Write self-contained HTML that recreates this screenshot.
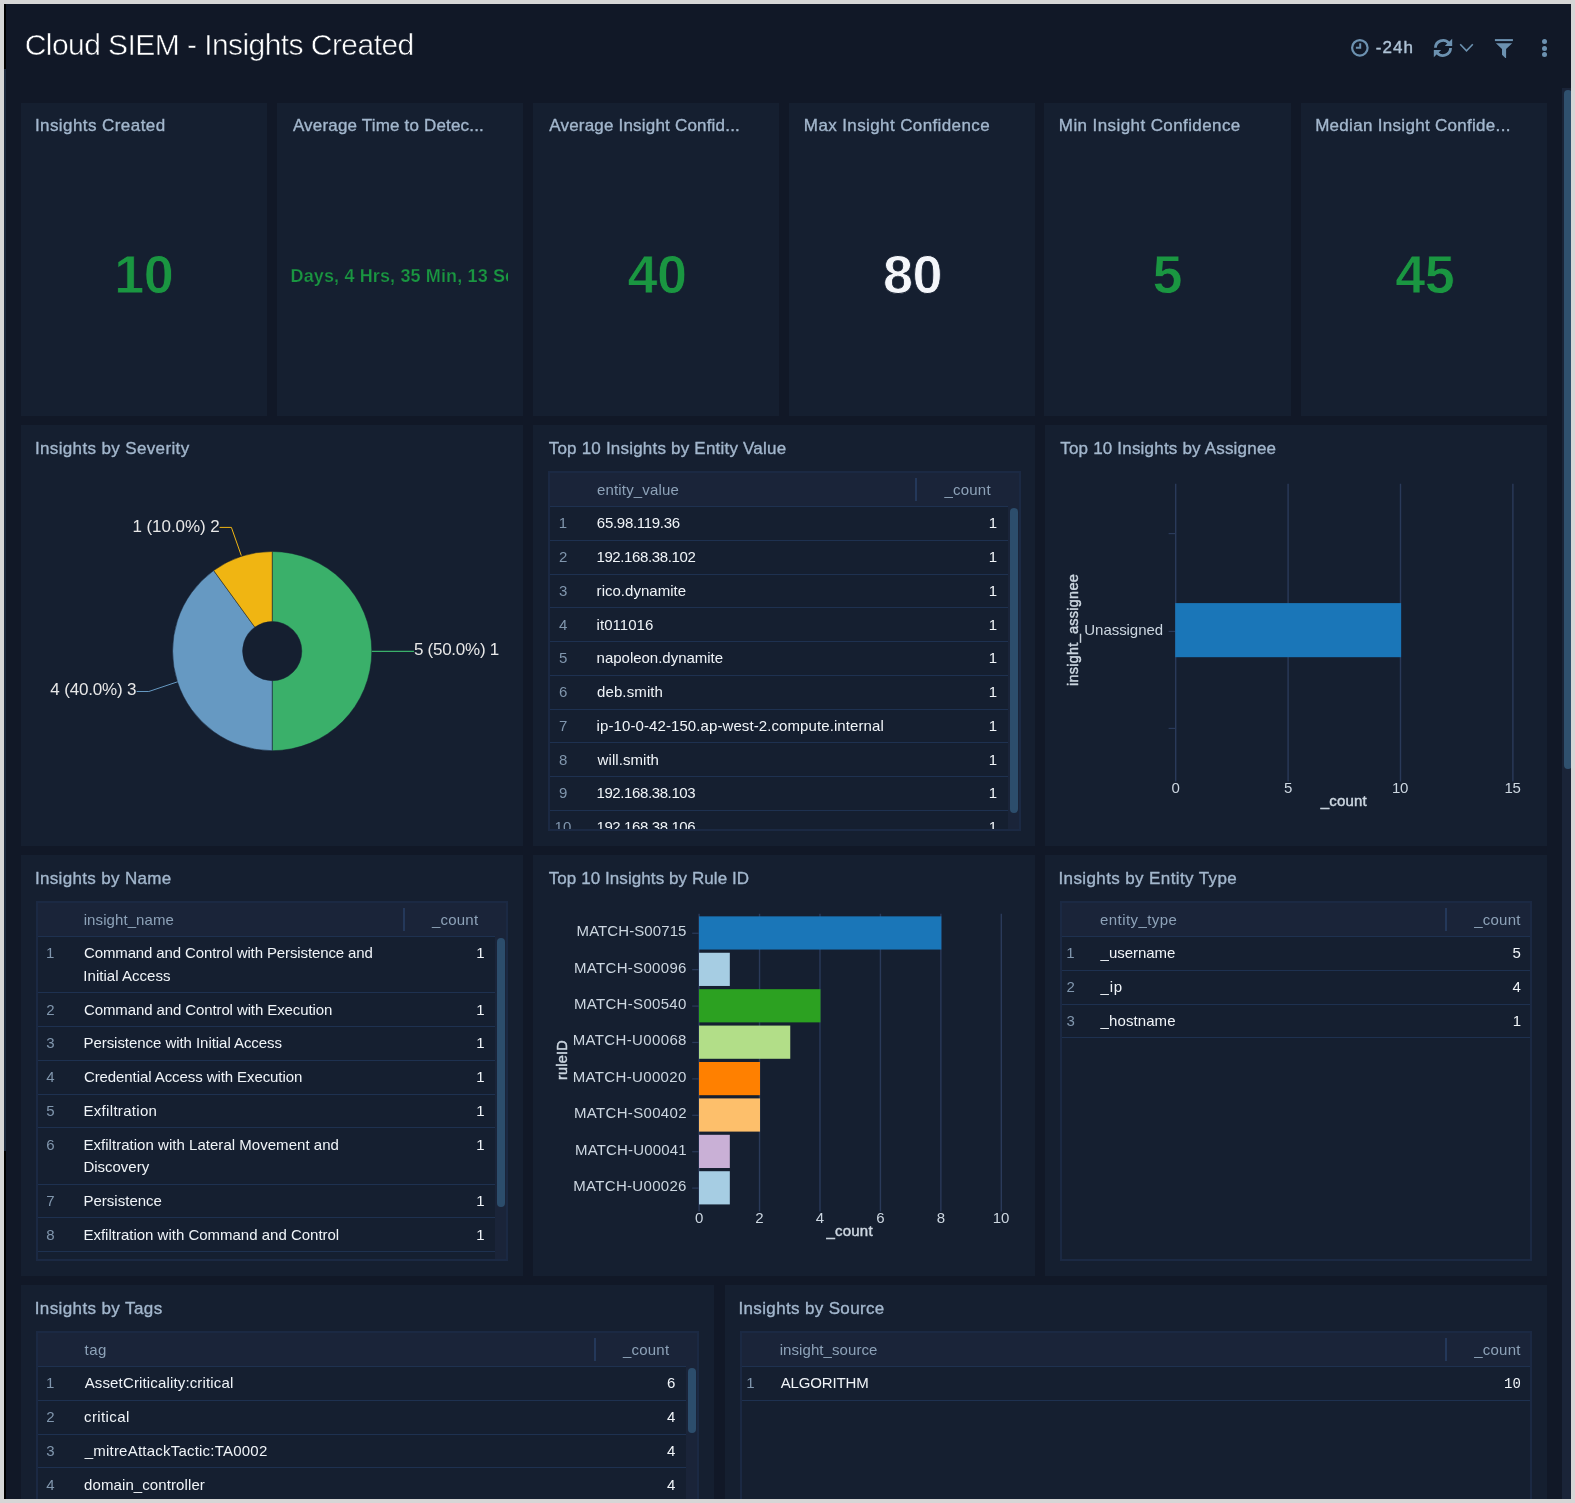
<!DOCTYPE html>
<html lang="en"><head><meta charset="utf-8"><title>Cloud SIEM - Insights Created</title>
<style>
html,body{margin:0;padding:0}
body{width:1575px;height:1503px;overflow:hidden;position:relative;background:#111827;font-family:"Liberation Sans",sans-serif}
.b{position:absolute}
.t{position:absolute;white-space:pre;line-height:1;font-family:"Liberation Sans",sans-serif}
.pt{-webkit-text-stroke:0.35px #a3b7cd}
.ax{-webkit-text-stroke:0.45px #ccd6e0}
svg{position:absolute;overflow:visible}
#root{position:absolute;left:0;top:0;width:1575px;height:1503px;overflow:hidden;will-change:transform}
</style></head><body><div id="root">

<div class="b" style="left:4px;top:4px;width:2px;height:65px;background:#000;"></div>
<div class="b" style="left:4px;top:69px;width:2px;height:1082px;background:#1c293c;"></div>
<div class="b" style="left:4px;top:1151px;width:2px;height:348px;background:#000;"></div>
<div class="t" style="left:24.70px;top:29.71px;font-size:30px;color:#ffffff;letter-spacing:-0.559px;-webkit-text-stroke:0.55px #111827;">Cloud SIEM - Insights Created</div>
<svg style="left:1350px;top:38px" width="20" height="20" viewBox="0 0 20 20"><circle cx="9.85" cy="9.85" r="7.75" fill="none" stroke="#6c91b0" stroke-width="2.2"/><path d="M10.2 5.2V9.7H5.9" fill="none" stroke="#6c91b0" stroke-width="2"/></svg>
<div class="t" style="left:1375.85px;top:38.61px;font-size:17px;color:#aec2d6;letter-spacing:1.004px;-webkit-text-stroke:0.4px #aec2d6;">-24h</div>
<svg style="left:1433px;top:38px" width="20" height="20" viewBox="0 0 20 20"><g fill="none" stroke="#6c91b0" stroke-width="2.8"><path d="M2.45 9.85A7.55 7.55 0 0 1 15.78 5.1"/><path d="M17.55 10.05A7.55 7.55 0 0 1 4.22 14.8"/></g><path d="M19.2 0.8V8.1H11.8Z" fill="#6c91b0"/><path d="M0.8 19.2V11.9H8.2Z" fill="#6c91b0"/></svg>
<svg style="left:1459px;top:43px" width="16" height="10" viewBox="0 0 16 10"><path d="M1.2 1.3L7.5 7.8L13.8 1.3" fill="none" stroke="#6c91b0" stroke-width="1.6"/></svg>
<svg style="left:1494px;top:38px" width="20" height="21" viewBox="0 0 20 21"><path d="M0.9 1.1h18v2H0.9z" fill="#6c91b0"/><path d="M1.9 5.2H18.2L12.1 10.9V20.1H11.3L8 16.8V10.9Z" fill="#6c91b0"/></svg>
<div class="b" style="left:1541.8px;top:39.0px;width:5px;height:5px;border-radius:50%;background:#6c91b0"></div>
<div class="b" style="left:1541.8px;top:45.5px;width:5px;height:5px;border-radius:50%;background:#6c91b0"></div>
<div class="b" style="left:1541.8px;top:52.1px;width:5px;height:5px;border-radius:50%;background:#6c91b0"></div>
<div class="b" style="left:1562px;top:88px;width:9px;height:1411px;background:#1a2438;"></div>
<div class="b" style="left:1564px;top:90px;width:8px;height:679px;background:#2f506e;border-radius:4px;"></div>
<div class="b" style="left:21px;top:103px;width:246px;height:313px;background:#151f30;"></div>
<div class="t pt" style="left:34.89px;top:116.51px;font-size:17px;color:#a3b7cd;letter-spacing:0.431px;">Insights Created</div>
<div class="t" style="left:114.23px;top:246.89px;font-size:54px;color:#1a9641;font-weight:700;letter-spacing:-0.500px;-webkit-text-stroke:0.8px #151f30;">10</div>
<div class="b" style="left:277px;top:103px;width:246px;height:313px;background:#151f30;"></div>
<div class="t pt" style="left:292.92px;top:116.51px;font-size:17px;color:#a3b7cd;letter-spacing:0.178px;">Average Time to Detec...</div>
<div class="b" style="left:533px;top:103px;width:246px;height:313px;background:#151f30;"></div>
<div class="t pt" style="left:549.22px;top:116.51px;font-size:17px;color:#a3b7cd;letter-spacing:0.197px;">Average Insight Confid...</div>
<div class="t" style="left:627.50px;top:246.89px;font-size:54px;color:#1a9641;font-weight:700;letter-spacing:-0.500px;-webkit-text-stroke:0.8px #151f30;">40</div>
<div class="b" style="left:789px;top:103px;width:246px;height:313px;background:#151f30;"></div>
<div class="t pt" style="left:803.86px;top:116.51px;font-size:17px;color:#a3b7cd;letter-spacing:0.385px;">Max Insight Confidence</div>
<div class="t" style="left:883.06px;top:246.89px;font-size:54px;color:#f4f6fa;font-weight:700;letter-spacing:-0.500px;-webkit-text-stroke:0.8px #151f30;">80</div>
<div class="b" style="left:1044px;top:103px;width:247px;height:313px;background:#151f30;"></div>
<div class="t pt" style="left:1058.86px;top:116.51px;font-size:17px;color:#a3b7cd;letter-spacing:0.405px;">Min Insight Confidence</div>
<div class="t" style="left:1152.51px;top:246.89px;font-size:54px;color:#1a9641;font-weight:700;letter-spacing:-0.500px;-webkit-text-stroke:0.8px #151f30;">5</div>
<div class="b" style="left:1301px;top:103px;width:246px;height:313px;background:#151f30;"></div>
<div class="t pt" style="left:1315.16px;top:116.51px;font-size:17px;color:#a3b7cd;letter-spacing:0.299px;">Median Insight Confide...</div>
<div class="t" style="left:1395.15px;top:246.89px;font-size:54px;color:#1a9641;font-weight:700;letter-spacing:-0.500px;-webkit-text-stroke:0.8px #151f30;">45</div>
<div class="b" style="left:291px;top:255px;width:216.5px;height:40px;overflow:hidden">
<div class="t" style="left:-0.49px;top:11.56px;font-size:18px;color:#1a9641;font-weight:700;letter-spacing:0.140px;-webkit-text-stroke:0.25px #151f30;">Days, 4 Hrs, 35 Min, 13 Sec</div>
</div>
<div class="b" style="left:21px;top:425px;width:502px;height:421px;background:#151f30;"></div>
<div class="t pt" style="left:34.89px;top:439.71px;font-size:17px;color:#a3b7cd;letter-spacing:0.363px;">Insights by Severity</div>
<div class="b" style="left:533px;top:425px;width:502px;height:421px;background:#151f30;"></div>
<div class="t pt" style="left:548.68px;top:439.71px;font-size:17px;color:#a3b7cd;letter-spacing:0.207px;">Top 10 Insights by Entity Value</div>
<div class="b" style="left:1045px;top:425px;width:502px;height:421px;background:#151f30;"></div>
<div class="t pt" style="left:1060.28px;top:439.71px;font-size:17px;color:#a3b7cd;letter-spacing:0.191px;">Top 10 Insights by Assignee</div>
<svg style="left:0;top:0" width="1575" height="1503" viewBox="0 0 1575 1503">
<path d="M272.20 551.50A99.6 99.6 0 0 1 272.20 750.70L272.20 680.70A29.6 29.6 0 0 0 272.20 621.50Z" fill="#3ab06a" stroke="#151f30" stroke-width="0.5"/>
<path d="M272.20 750.70A99.6 99.6 0 0 1 213.66 570.52L254.80 627.15A29.6 29.6 0 0 0 272.20 680.70Z" fill="#6699c2" stroke="#151f30" stroke-width="0.5"/>
<path d="M213.66 570.52A99.6 99.6 0 0 1 272.20 551.50L272.20 621.50A29.6 29.6 0 0 0 254.80 627.15Z" fill="#f0b512" stroke="#151f30" stroke-width="0.5"/>
<path d="M371.8 651.4H414" fill="none" stroke="#3ab06a" stroke-width="1.2"/>
<path d="M241.3 555.6L231.4 527.4H219.6" fill="none" stroke="#f0b512" stroke-width="1"/>
<path d="M177.6 681.8L148.8 691.5H136.6" fill="none" stroke="#6699c2" stroke-width="1"/>
</svg>
<div class="t" style="left:413.92px;top:641.41px;font-size:17px;color:#e8e8e8;letter-spacing:-0.258px;">5 (50.0%) 1</div>
<div class="t" style="left:132.51px;top:517.81px;font-size:17px;color:#e8e8e8;letter-spacing:-0.074px;">1 (10.0%) 2</div>
<div class="t" style="left:50.33px;top:681.41px;font-size:17px;color:#e8e8e8;letter-spacing:-0.177px;">4 (40.0%) 3</div>
<div class="b" style="left:548px;top:471px;width:469px;height:356px;border:2px solid #1b2943;overflow:hidden">
<div class="b" style="left:0;top:0;width:469px;height:33px;background:#1a2439"></div>
<div class="b" style="left:458px;top:33px;width:11px;height:360px;background:#1a2439"></div>
<div class="b" style="left:365px;top:5px;width:2px;height:23px;background:#24385a"></div>
</div>
<div class="t" style="left:596.97px;top:481.50px;font-size:15px;color:#8da2b8;letter-spacing:0.167px;">entity_value</div>
<div class="t" style="left:944.40px;top:481.50px;font-size:15px;color:#8da2b8;letter-spacing:0.233px;">_count</div>
<div class="b" style="left:550px;top:506px;width:458px;height:1px;background:#1e3150;"></div>
<div class="t" style="left:558.82px;top:515.00px;font-size:15px;color:#8096ad;">1</div>
<div class="t" style="left:596.85px;top:515.00px;font-size:15px;color:#f0f4f8;letter-spacing:-0.288px;">65.98.119.36</div>
<div class="t" style="left:988.68px;top:515.00px;font-size:15px;color:#f0f4f8;">1</div>
<div class="b" style="left:550px;top:540px;width:458px;height:1px;background:#1e3150;"></div>
<div class="t" style="left:559.03px;top:549.00px;font-size:15px;color:#8096ad;">2</div>
<div class="t" style="left:596.46px;top:549.00px;font-size:15px;color:#f0f4f8;letter-spacing:-0.383px;">192.168.38.102</div>
<div class="t" style="left:988.68px;top:549.00px;font-size:15px;color:#f0f4f8;">1</div>
<div class="b" style="left:550px;top:574px;width:458px;height:1px;background:#1e3150;"></div>
<div class="t" style="left:559.07px;top:583.00px;font-size:15px;color:#8096ad;">3</div>
<div class="t" style="left:596.61px;top:583.00px;font-size:15px;color:#f0f4f8;letter-spacing:0.021px;">rico.dynamite</div>
<div class="t" style="left:988.68px;top:583.00px;font-size:15px;color:#f0f4f8;">1</div>
<div class="b" style="left:550px;top:607px;width:458px;height:1px;background:#1e3150;"></div>
<div class="t" style="left:559.08px;top:617.00px;font-size:15px;color:#8096ad;">4</div>
<div class="t" style="left:596.61px;top:617.00px;font-size:15px;color:#f0f4f8;letter-spacing:0.042px;">it011016</div>
<div class="t" style="left:988.68px;top:617.00px;font-size:15px;color:#f0f4f8;">1</div>
<div class="b" style="left:550px;top:641px;width:458px;height:1px;background:#1e3150;"></div>
<div class="t" style="left:559.04px;top:650.00px;font-size:15px;color:#8096ad;">5</div>
<div class="t" style="left:596.61px;top:650.00px;font-size:15px;color:#f0f4f8;letter-spacing:-0.019px;">napoleon.dynamite</div>
<div class="t" style="left:988.68px;top:650.00px;font-size:15px;color:#f0f4f8;">1</div>
<div class="b" style="left:550px;top:675px;width:458px;height:1px;background:#1e3150;"></div>
<div class="t" style="left:558.98px;top:684.00px;font-size:15px;color:#8096ad;">6</div>
<div class="t" style="left:596.97px;top:684.00px;font-size:15px;color:#f0f4f8;letter-spacing:0.120px;">deb.smith</div>
<div class="t" style="left:988.68px;top:684.00px;font-size:15px;color:#f0f4f8;">1</div>
<div class="b" style="left:550px;top:709px;width:458px;height:1px;background:#1e3150;"></div>
<div class="t" style="left:559.02px;top:718.00px;font-size:15px;color:#8096ad;">7</div>
<div class="t" style="left:596.61px;top:718.00px;font-size:15px;color:#f0f4f8;letter-spacing:0.092px;">ip-10-0-42-150.ap-west-2.compute.internal</div>
<div class="t" style="left:988.68px;top:718.00px;font-size:15px;color:#f0f4f8;">1</div>
<div class="b" style="left:550px;top:742px;width:458px;height:1px;background:#1e3150;"></div>
<div class="t" style="left:559.03px;top:752.00px;font-size:15px;color:#8096ad;">8</div>
<div class="t" style="left:597.60px;top:752.00px;font-size:15px;color:#f0f4f8;letter-spacing:0.059px;">will.smith</div>
<div class="t" style="left:988.68px;top:752.00px;font-size:15px;color:#f0f4f8;">1</div>
<div class="b" style="left:550px;top:776px;width:458px;height:1px;background:#1e3150;"></div>
<div class="t" style="left:559.04px;top:785.00px;font-size:15px;color:#8096ad;">9</div>
<div class="t" style="left:596.46px;top:785.00px;font-size:15px;color:#f0f4f8;letter-spacing:-0.391px;">192.168.38.103</div>
<div class="t" style="left:988.68px;top:785.00px;font-size:15px;color:#f0f4f8;">1</div>
<div class="b" style="left:550px;top:810px;width:458px;height:1px;background:#1e3150;"></div>
<div class="b" style="left:550px;top:810px;width:469px;height:19px;overflow:hidden">
<div class="t" style="left:4.57px;top:9.00px;font-size:15px;color:#8096ad;">10</div>
<div class="t" style="left:46.46px;top:9.00px;font-size:15px;color:#f0f4f8;letter-spacing:-0.391px;">192.168.38.106</div>
<div class="t" style="left:438.68px;top:9.00px;font-size:15px;color:#f0f4f8;">1</div>
</div>
<div class="b" style="left:1010px;top:507.5px;width:8px;height:305.5px;background:#2c4d6c;border-radius:4px;"></div>
<svg style="left:0;top:0" width="1575" height="1503" viewBox="0 0 1575 1503">
<path d="M1175.7 483.8V781.6" stroke="#2a3a5a" stroke-width="1.4" fill="none"/>
<path d="M1288.1 483.8V781.6" stroke="#2a3a5a" stroke-width="1.4" fill="none"/>
<path d="M1400.5 483.8V781.6" stroke="#2a3a5a" stroke-width="1.4" fill="none"/>
<path d="M1512.9 483.8V781.6" stroke="#2a3a5a" stroke-width="1.4" fill="none"/>
<path d="M1168.6 533.6H1175.7" stroke="#2a3a5a" stroke-width="1.2" fill="none"/>
<path d="M1168.6 631.4H1175.7" stroke="#2a3a5a" stroke-width="1.2" fill="none"/>
<path d="M1168.6 728.4H1175.7" stroke="#2a3a5a" stroke-width="1.2" fill="none"/>
<rect x="1175.2" y="603.1" width="225.9" height="54.1" fill="#1a76b8"/>
</svg>
<div class="t" style="left:1084.35px;top:621.90px;font-size:15px;color:#ccd6e0;letter-spacing:-0.056px;">Unassigned</div>
<div class="t" style="left:1171.52px;top:779.90px;font-size:15px;color:#ccd6e0;letter-spacing:-0.200px;">0</div>
<div class="t" style="left:1283.94px;top:779.90px;font-size:15px;color:#ccd6e0;letter-spacing:-0.200px;">5</div>
<div class="t" style="left:1391.97px;top:779.90px;font-size:15px;color:#ccd6e0;letter-spacing:-0.200px;">10</div>
<div class="t" style="left:1504.40px;top:779.90px;font-size:15px;color:#ccd6e0;letter-spacing:-0.200px;">15</div>
<div class="t ax" style="left:1320.73px;top:793.10px;font-size:15px;color:#ccd6e0;letter-spacing:0.200px;">_count</div>
<div class="t ax" style="left:1073px;top:630px;font-size:14.5px;color:#ccd6e0;letter-spacing:0.25px;transform:translate(-50%,-50%) rotate(-90deg)">insight_assignee</div>
<div class="b" style="left:21px;top:855px;width:502px;height:421px;background:#151f30;"></div>
<div class="t pt" style="left:34.89px;top:869.71px;font-size:17px;color:#a3b7cd;letter-spacing:0.339px;">Insights by Name</div>
<div class="b" style="left:533px;top:855px;width:502px;height:421px;background:#151f30;"></div>
<div class="t pt" style="left:548.68px;top:869.71px;font-size:17px;color:#a3b7cd;letter-spacing:0.081px;">Top 10 Insights by Rule ID</div>
<div class="b" style="left:1045px;top:855px;width:502px;height:421px;background:#151f30;"></div>
<div class="t pt" style="left:1058.49px;top:869.71px;font-size:17px;color:#a3b7cd;letter-spacing:0.384px;">Insights by Entity Type</div>
<div class="b" style="left:36px;top:901px;width:468px;height:356px;border:2px solid #1b2943;overflow:hidden">
<div class="b" style="left:0;top:0;width:468px;height:33px;background:#1a2439"></div>
<div class="b" style="left:457px;top:33px;width:11px;height:360px;background:#1a2439"></div>
<div class="b" style="left:364.5px;top:5px;width:2px;height:23px;background:#24385a"></div>
</div>
<div class="t" style="left:83.71px;top:911.50px;font-size:15px;color:#8da2b8;letter-spacing:0.084px;">insight_name</div>
<div class="t" style="left:431.90px;top:911.50px;font-size:15px;color:#8da2b8;letter-spacing:0.233px;">_count</div>
<div class="b" style="left:38px;top:936px;width:457px;height:1px;background:#1e3150;"></div>
<div class="t" style="left:46.02px;top:945.00px;font-size:15px;color:#8096ad;">1</div>
<div class="t" style="left:83.95px;top:945.00px;font-size:15px;color:#f0f4f8;letter-spacing:-0.117px;">Command and Control with Persistence and</div>
<div class="t" style="left:83.32px;top:968.00px;font-size:15px;color:#f0f4f8;letter-spacing:0.032px;">Initial Access</div>
<div class="t" style="left:476.18px;top:945.00px;font-size:15px;color:#f0f4f8;">1</div>
<div class="b" style="left:38px;top:992px;width:457px;height:1px;background:#1e3150;"></div>
<div class="t" style="left:46.23px;top:1002.00px;font-size:15px;color:#8096ad;">2</div>
<div class="t" style="left:83.95px;top:1002.00px;font-size:15px;color:#f0f4f8;letter-spacing:-0.105px;">Command and Control with Execution</div>
<div class="t" style="left:476.18px;top:1002.00px;font-size:15px;color:#f0f4f8;">1</div>
<div class="b" style="left:38px;top:1026px;width:457px;height:1px;background:#1e3150;"></div>
<div class="t" style="left:46.27px;top:1035.00px;font-size:15px;color:#8096ad;">3</div>
<div class="t" style="left:83.47px;top:1035.00px;font-size:15px;color:#f0f4f8;letter-spacing:-0.050px;">Persistence with Initial Access</div>
<div class="t" style="left:476.18px;top:1035.00px;font-size:15px;color:#f0f4f8;">1</div>
<div class="b" style="left:38px;top:1060px;width:457px;height:1px;background:#1e3150;"></div>
<div class="t" style="left:46.28px;top:1069.00px;font-size:15px;color:#8096ad;">4</div>
<div class="t" style="left:83.95px;top:1069.00px;font-size:15px;color:#f0f4f8;letter-spacing:-0.085px;">Credential Access with Execution</div>
<div class="t" style="left:476.18px;top:1069.00px;font-size:15px;color:#f0f4f8;">1</div>
<div class="b" style="left:38px;top:1094px;width:457px;height:1px;background:#1e3150;"></div>
<div class="t" style="left:46.24px;top:1103.00px;font-size:15px;color:#8096ad;">5</div>
<div class="t" style="left:83.47px;top:1103.00px;font-size:15px;color:#f0f4f8;letter-spacing:0.315px;">Exfiltration</div>
<div class="t" style="left:476.18px;top:1103.00px;font-size:15px;color:#f0f4f8;">1</div>
<div class="b" style="left:38px;top:1127px;width:457px;height:1px;background:#1e3150;"></div>
<div class="t" style="left:46.18px;top:1137.00px;font-size:15px;color:#8096ad;">6</div>
<div class="t" style="left:83.47px;top:1137.00px;font-size:15px;color:#f0f4f8;letter-spacing:0.030px;">Exfiltration with Lateral Movement and</div>
<div class="t" style="left:83.47px;top:1159.00px;font-size:15px;color:#f0f4f8;letter-spacing:-0.023px;">Discovery</div>
<div class="t" style="left:476.18px;top:1137.00px;font-size:15px;color:#f0f4f8;">1</div>
<div class="b" style="left:38px;top:1184px;width:457px;height:1px;background:#1e3150;"></div>
<div class="t" style="left:46.22px;top:1193.00px;font-size:15px;color:#8096ad;">7</div>
<div class="t" style="left:83.47px;top:1193.00px;font-size:15px;color:#f0f4f8;letter-spacing:0.012px;">Persistence</div>
<div class="t" style="left:476.18px;top:1193.00px;font-size:15px;color:#f0f4f8;">1</div>
<div class="b" style="left:38px;top:1217px;width:457px;height:1px;background:#1e3150;"></div>
<div class="t" style="left:46.23px;top:1227.00px;font-size:15px;color:#8096ad;">8</div>
<div class="t" style="left:83.47px;top:1227.00px;font-size:15px;color:#f0f4f8;letter-spacing:-0.006px;">Exfiltration with Command and Control</div>
<div class="t" style="left:476.18px;top:1227.00px;font-size:15px;color:#f0f4f8;">1</div>
<div class="b" style="left:38px;top:1251px;width:457px;height:1px;background:#1e3150;"></div>
<div class="b" style="left:38px;top:1251px;width:468px;height:8px;overflow:hidden">
<div class="t" style="left:8.24px;top:9.00px;font-size:15px;color:#8096ad;">9</div>
<div class="t" style="left:45.32px;top:9.00px;font-size:15px;color:#f0f4f8;letter-spacing:0.032px;">Initial Access</div>
<div class="t" style="left:438.18px;top:9.00px;font-size:15px;color:#f0f4f8;">1</div>
</div>
<div class="b" style="left:497px;top:937.5px;width:8px;height:269.0px;background:#2c4d6c;border-radius:4px;"></div>
<svg style="left:0;top:0" width="1575" height="1503" viewBox="0 0 1575 1503">
<path d="M699.10 913.8V1211.6" stroke="#2a3a5a" stroke-width="1.4" fill="none"/>
<path d="M759.54 913.8V1211.6" stroke="#2a3a5a" stroke-width="1.4" fill="none"/>
<path d="M819.98 913.8V1211.6" stroke="#2a3a5a" stroke-width="1.4" fill="none"/>
<path d="M880.42 913.8V1211.6" stroke="#2a3a5a" stroke-width="1.4" fill="none"/>
<path d="M940.86 913.8V1211.6" stroke="#2a3a5a" stroke-width="1.4" fill="none"/>
<path d="M1001.30 913.8V1211.6" stroke="#2a3a5a" stroke-width="1.4" fill="none"/>
<path d="M692.2 933.25H699.1" stroke="#2a3a5a" stroke-width="1.2" fill="none"/>
<rect x="699.00" y="916.35" width="242.36" height="33.2" fill="#1a76b8"/>
<path d="M692.2 969.66H699.1" stroke="#2a3a5a" stroke-width="1.2" fill="none"/>
<rect x="699.00" y="952.76" width="30.82" height="33.2" fill="#a6cde3"/>
<path d="M692.2 1006.07H699.1" stroke="#2a3a5a" stroke-width="1.2" fill="none"/>
<rect x="699.00" y="989.17" width="121.48" height="33.2" fill="#2ca121"/>
<path d="M692.2 1042.48H699.1" stroke="#2a3a5a" stroke-width="1.2" fill="none"/>
<rect x="699.00" y="1025.58" width="91.26" height="33.2" fill="#b2de88"/>
<path d="M692.2 1078.89H699.1" stroke="#2a3a5a" stroke-width="1.2" fill="none"/>
<rect x="699.00" y="1061.99" width="61.04" height="33.2" fill="#ff8000"/>
<path d="M692.2 1115.30H699.1" stroke="#2a3a5a" stroke-width="1.2" fill="none"/>
<rect x="699.00" y="1098.40" width="61.04" height="33.2" fill="#fdbf6b"/>
<path d="M692.2 1151.71H699.1" stroke="#2a3a5a" stroke-width="1.2" fill="none"/>
<rect x="699.00" y="1134.81" width="30.82" height="33.2" fill="#c9b0d6"/>
<path d="M692.2 1188.12H699.1" stroke="#2a3a5a" stroke-width="1.2" fill="none"/>
<rect x="699.00" y="1171.22" width="30.82" height="33.2" fill="#a6cde3"/>
</svg>
<div class="t" style="left:576.57px;top:923.25px;font-size:15px;color:#ccd6e0;letter-spacing:0.084px;">MATCH-S00715</div>
<div class="t" style="left:573.97px;top:959.66px;font-size:15px;color:#ccd6e0;letter-spacing:0.323px;">MATCH-S00096</div>
<div class="t" style="left:573.97px;top:996.07px;font-size:15px;color:#ccd6e0;letter-spacing:0.316px;">MATCH-S00540</div>
<div class="t" style="left:572.67px;top:1032.48px;font-size:15px;color:#ccd6e0;letter-spacing:0.366px;">MATCH-U00068</div>
<div class="t" style="left:572.67px;top:1068.89px;font-size:15px;color:#ccd6e0;letter-spacing:0.359px;">MATCH-U00020</div>
<div class="t" style="left:573.97px;top:1105.30px;font-size:15px;color:#ccd6e0;letter-spacing:0.332px;">MATCH-S00402</div>
<div class="t" style="left:574.97px;top:1141.71px;font-size:15px;color:#ccd6e0;letter-spacing:0.163px;">MATCH-U00041</div>
<div class="t" style="left:573.27px;top:1178.12px;font-size:15px;color:#ccd6e0;letter-spacing:0.311px;">MATCH-U00026</div>
<div class="t" style="left:694.92px;top:1209.90px;font-size:15px;color:#ccd6e0;letter-spacing:-0.200px;">0</div>
<div class="t" style="left:755.37px;top:1209.90px;font-size:15px;color:#ccd6e0;letter-spacing:-0.200px;">2</div>
<div class="t" style="left:815.86px;top:1209.90px;font-size:15px;color:#ccd6e0;letter-spacing:-0.200px;">4</div>
<div class="t" style="left:876.20px;top:1209.90px;font-size:15px;color:#ccd6e0;letter-spacing:-0.200px;">6</div>
<div class="t" style="left:936.69px;top:1209.90px;font-size:15px;color:#ccd6e0;letter-spacing:-0.200px;">8</div>
<div class="t" style="left:992.77px;top:1209.90px;font-size:15px;color:#ccd6e0;letter-spacing:-0.200px;">10</div>
<div class="t ax" style="left:826.53px;top:1223.10px;font-size:15px;color:#ccd6e0;letter-spacing:0.200px;">_count</div>
<div class="t ax" style="left:562px;top:1059.6px;font-size:14.5px;color:#ccd6e0;letter-spacing:0.25px;transform:translate(-50%,-50%) rotate(-90deg)">ruleID</div>
<div class="b" style="left:1060px;top:901px;width:468px;height:356px;border:2px solid #1b2943;overflow:hidden">
<div class="b" style="left:0;top:0;width:468px;height:33px;background:#1a2439"></div>
<div class="b" style="left:383.29999999999995px;top:5px;width:2px;height:23px;background:#24385a"></div>
</div>
<div class="t" style="left:1099.97px;top:911.50px;font-size:15px;color:#8da2b8;letter-spacing:0.435px;">entity_type</div>
<div class="t" style="left:1474.20px;top:911.50px;font-size:15px;color:#8da2b8;letter-spacing:0.233px;">_count</div>
<div class="b" style="left:1062px;top:936px;width:468px;height:1px;background:#1e3150;"></div>
<div class="t" style="left:1066.22px;top:945.00px;font-size:15px;color:#8096ad;">1</div>
<div class="t" style="left:1100.60px;top:945.00px;font-size:15px;color:#f0f4f8;letter-spacing:-0.048px;">_username</div>
<div class="t" style="left:1512.58px;top:945.00px;font-size:15px;color:#f0f4f8;">5</div>
<div class="b" style="left:1062px;top:970px;width:468px;height:1px;background:#1e3150;"></div>
<div class="t" style="left:1066.43px;top:979.00px;font-size:15px;color:#8096ad;">2</div>
<div class="t" style="left:1100.60px;top:979.00px;font-size:15px;color:#f0f4f8;letter-spacing:0.700px;">_ip</div>
<div class="t" style="left:1512.39px;top:979.00px;font-size:15px;color:#f0f4f8;">4</div>
<div class="b" style="left:1062px;top:1004px;width:468px;height:1px;background:#1e3150;"></div>
<div class="t" style="left:1066.47px;top:1013.00px;font-size:15px;color:#8096ad;">3</div>
<div class="t" style="left:1100.60px;top:1013.00px;font-size:15px;color:#f0f4f8;letter-spacing:0.093px;">_hostname</div>
<div class="t" style="left:1512.68px;top:1013.00px;font-size:15px;color:#f0f4f8;">1</div>
<div class="b" style="left:1062px;top:1037px;width:468px;height:1px;background:#1e3150;"></div>
<div class="b" style="left:21px;top:1285px;width:693px;height:230px;background:#151f30;"></div>
<div class="t pt" style="left:34.69px;top:1299.71px;font-size:17px;color:#a3b7cd;letter-spacing:0.392px;">Insights by Tags</div>
<div class="b" style="left:725px;top:1285px;width:822px;height:230px;background:#151f30;"></div>
<div class="t pt" style="left:738.49px;top:1299.71px;font-size:17px;color:#a3b7cd;letter-spacing:0.351px;">Insights by Source</div>
<div class="b" style="left:36px;top:1331px;width:659px;height:236px;border:2px solid #1b2943;overflow:hidden">
<div class="b" style="left:0;top:0;width:659px;height:33px;background:#1a2439"></div>
<div class="b" style="left:648px;top:33px;width:11px;height:240px;background:#1a2439"></div>
<div class="b" style="left:556px;top:5px;width:2px;height:23px;background:#24385a"></div>
</div>
<div class="t" style="left:84.48px;top:1341.50px;font-size:15px;color:#8da2b8;letter-spacing:0.568px;">tag</div>
<div class="t" style="left:622.90px;top:1341.50px;font-size:15px;color:#8da2b8;letter-spacing:0.233px;">_count</div>
<div class="b" style="left:38px;top:1366px;width:648px;height:1px;background:#1e3150;"></div>
<div class="t" style="left:46.02px;top:1375.00px;font-size:15px;color:#8096ad;">1</div>
<div class="t" style="left:84.67px;top:1375.00px;font-size:15px;color:#f0f4f8;letter-spacing:0.150px;">AssetCriticality:critical</div>
<div class="t" style="left:667.10px;top:1375.00px;font-size:15px;color:#f0f4f8;">6</div>
<div class="b" style="left:38px;top:1400px;width:648px;height:1px;background:#1e3150;"></div>
<div class="t" style="left:46.23px;top:1409.00px;font-size:15px;color:#8096ad;">2</div>
<div class="t" style="left:84.07px;top:1409.00px;font-size:15px;color:#f0f4f8;letter-spacing:0.389px;">critical</div>
<div class="t" style="left:666.89px;top:1409.00px;font-size:15px;color:#f0f4f8;">4</div>
<div class="b" style="left:38px;top:1434px;width:648px;height:1px;background:#1e3150;"></div>
<div class="t" style="left:46.27px;top:1443.00px;font-size:15px;color:#8096ad;">3</div>
<div class="t" style="left:84.70px;top:1443.00px;font-size:15px;color:#f0f4f8;letter-spacing:0.219px;">_mitreAttackTactic:TA0002</div>
<div class="t" style="left:666.89px;top:1443.00px;font-size:15px;color:#f0f4f8;">4</div>
<div class="b" style="left:38px;top:1467px;width:648px;height:1px;background:#1e3150;"></div>
<div class="t" style="left:46.28px;top:1477.00px;font-size:15px;color:#8096ad;">4</div>
<div class="t" style="left:84.07px;top:1477.00px;font-size:15px;color:#f0f4f8;letter-spacing:0.096px;">domain_controller</div>
<div class="t" style="left:666.89px;top:1477.00px;font-size:15px;color:#f0f4f8;">4</div>
<div class="b" style="left:38px;top:1501px;width:648px;height:1px;background:#1e3150;"></div>
<div class="t" style="left:46.24px;top:1510.00px;font-size:15px;color:#8096ad;">5</div>
<div class="t" style="left:84.53px;top:1510.00px;font-size:15px;color:#f0f4f8;">x</div>
<div class="t" style="left:666.89px;top:1510.00px;font-size:15px;color:#f0f4f8;">4</div>
<div class="b" style="left:38px;top:1535px;width:648px;height:1px;background:#1e3150;"></div>
<div class="b" style="left:688px;top:1367.5px;width:8px;height:65.0px;background:#2c4d6c;border-radius:4px;"></div>
<div class="b" style="left:740px;top:1331px;width:788px;height:236px;border:2px solid #1b2943;overflow:hidden">
<div class="b" style="left:0;top:0;width:788px;height:33px;background:#1a2439"></div>
<div class="b" style="left:703.3px;top:5px;width:2px;height:23px;background:#24385a"></div>
</div>
<div class="t" style="left:779.71px;top:1341.50px;font-size:15px;color:#8da2b8;letter-spacing:0.079px;">insight_source</div>
<div class="t" style="left:1474.20px;top:1341.50px;font-size:15px;color:#8da2b8;letter-spacing:0.233px;">_count</div>
<div class="b" style="left:742px;top:1366px;width:788px;height:1px;background:#1e3150;"></div>
<div class="t" style="left:746.22px;top:1375.00px;font-size:15px;color:#8096ad;">1</div>
<div class="t" style="left:780.67px;top:1375.00px;font-size:15px;color:#f0f4f8;letter-spacing:-0.139px;">ALGORITHM</div>
<div class="t" style="right:54.10px;top:1377px;font-size:14px;font-family:'Liberation Mono',monospace;color:#f0f4f8">10</div>
<div class="b" style="left:742px;top:1400px;width:788px;height:1px;background:#1e3150;"></div>
<div class="b" style="left:0px;top:0px;width:1575px;height:4px;background:#d6d6d6;"></div>
<div class="b" style="left:0px;top:1499px;width:1575px;height:4px;background:#d6d6d6;"></div>
<div class="b" style="left:0px;top:0px;width:4px;height:1503px;background:#d6d6d6;"></div>
<div class="b" style="left:1571px;top:0px;width:4px;height:1503px;background:#d6d6d6;"></div>
</div></body></html>
